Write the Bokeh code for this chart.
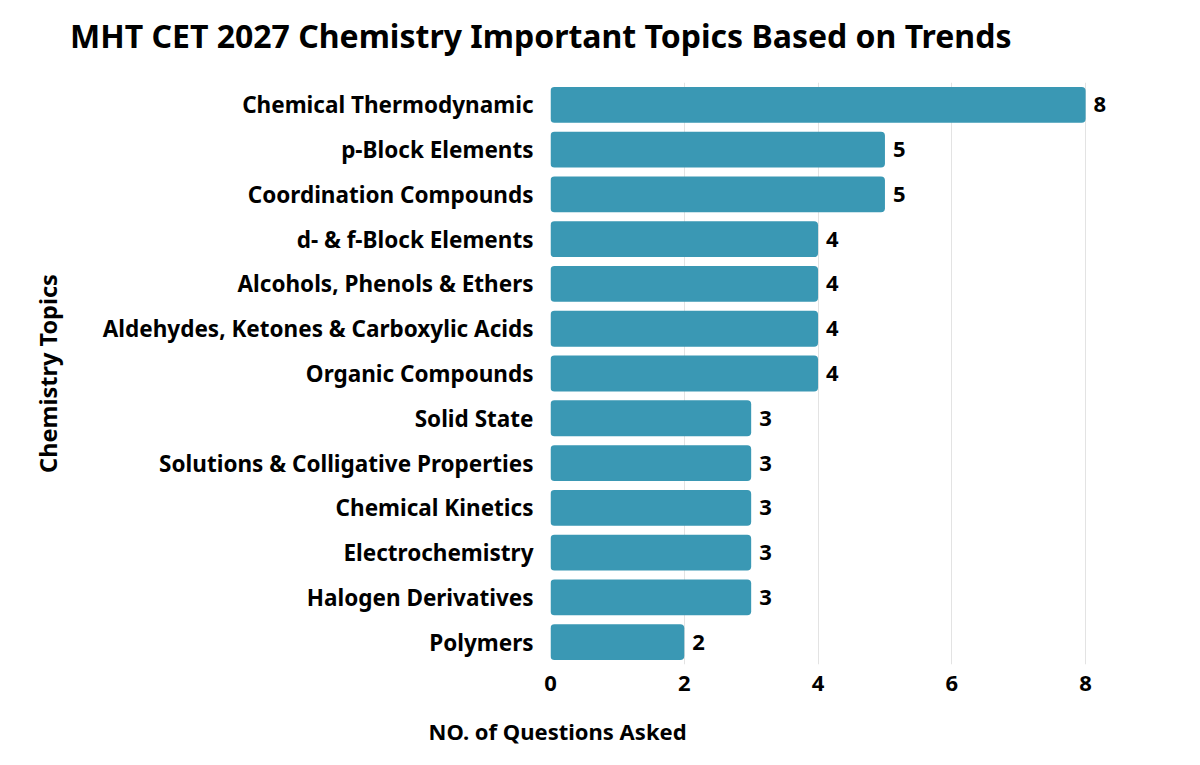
from bokeh.plotting import figure
from bokeh.layouts import column
from bokeh.models import ColumnDataSource, Range1d, FixedTicker, Title, Div
from bokeh.core.properties import value
from bokeh.embed import file_html
from bokeh.resources import INLINE

title = "MHT CET 2027 Chemistry Important Topics Based on Trends"
topics = [
    "Chemical Thermodynamic",
    "p-Block Elements",
    "Coordination Compounds",
    "d- & f-Block Elements",
    "Alcohols, Phenols & Ethers",
    "Aldehydes, Ketones & Carboxylic Acids",
    "Organic Compounds",
    "Solid State",
    "Solutions & Colligative Properties",
    "Chemical Kinetics",
    "Electrochemistry",
    "Halogen Derivatives",
    "Polymers",
]
questions = [8, 5, 5, 4, 4, 4, 4, 3, 3, 3, 3, 3, 2]
x_ticks = [0, 2, 4, 6, 8]

FONT = "Noto Sans"
BAR = "#3a98b4"

head = Div(text=title, width=1184, height=60, margin=0,
           styles={"font-family": FONT, "font-weight": "bold", "font-size": "32px",
                   "color": "black", "white-space": "nowrap", "padding-left": "70px",
                   "padding-top": "12px", "line-height": "48px", "box-sizing": "border-box"})

src = ColumnDataSource(dict(topic=topics, n=questions, lbl=[str(v) for v in questions]))

p = figure(
    y_range=topics[::-1],
    x_range=Range1d(0, 8.97),
    frame_width=600, frame_height=582,
    min_border_left=550, min_border_right=34,
    min_border_top=22, min_border_bottom=101,
    output_backend="svg", toolbar_location=None,
)
p.outline_line_color = None
p.background_fill_color = "white"

p.hbar(y="topic", right="n", left=0, height=0.8, source=src,
       fill_color=BAR, line_color=None, border_radius=4)

p.text(x="n", y="topic", text="lbl", source=src, x_offset=8,
       text_baseline="middle", text_align="left",
       text_font=value(FONT), text_font_style="bold",
       text_font_size="22px", text_color="black")

p.xaxis.ticker = FixedTicker(ticks=x_ticks)
p.xgrid.ticker = FixedTicker(ticks=x_ticks[1:])
p.xgrid.grid_line_color = "#e3e3e3"
p.ygrid.grid_line_color = None

for ax in (p.xaxis, p.yaxis):
    ax.axis_line_color = None
    ax.major_tick_line_color = None
    ax.minor_tick_line_color = None
    ax.major_label_text_font = FONT
    ax.major_label_text_font_style = "bold"
    ax.major_label_text_color = "black"

p.xaxis.major_label_text_font_size = "22px"
p.yaxis.major_label_text_font_size = "22.5px"
p.xaxis.major_label_standoff = 5
p.yaxis.major_label_standoff = 11
p.yaxis.axis_label = "Chemistry Topics"
p.yaxis.axis_label_text_font = FONT
p.yaxis.axis_label_text_font_style = "bold"
p.yaxis.axis_label_text_font_size = "23.5px"
p.yaxis.axis_label_text_color = "black"
p.yaxis.axis_label_standoff = 36

p.add_layout(Title(text="NO. of Questions Asked", text_font=FONT, text_font_style="bold",
                   text_font_size="22px", text_color="black", align="left",
                   offset=-122, standoff=41), "below")

open("out.html", "w").write(file_html(column(head, p, spacing=0), INLINE))
